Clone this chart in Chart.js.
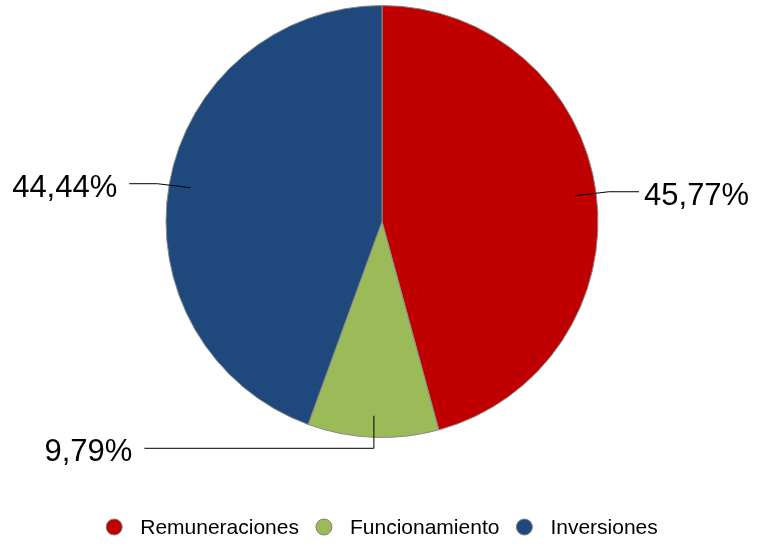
<!DOCTYPE html>
<html>
<head>
<meta charset="utf-8">
<script src="https://cdn.jsdelivr.net/npm/chart.js@4.4.1/dist/chart.umd.min.js"></script>
<style>
  body { margin: 0; background: #fff; }
  #wrap { width: 759px; height: 547px; }
</style>
</head>
<body>
<div id="wrap"><canvas id="piechart"></canvas></div>
<script>
const categories = ['Remuneraciones', 'Funcionamiento', 'Inversiones'];
const shares = [45.77, 9.79, 44.44];
const sliceColors = ['#C00000', '#9BBB59', '#1F497D'];

// leader line routes, in units of the pie radius from its centre
const leaders = [
    { elbow: [1.05, null], endX: 1.19, side: 'right' },
    { elbow: [null, 1.05], endX: -1.10, side: 'left' },
    { elbow: [-1.04, null], endX: -1.17, side: 'left' }
];

const FONT = '"Liberation Sans", Arial, sans-serif';

function fmt(v) {
    return v.toFixed(2).replace('.', ',') + '%';
}

const labelPlugin = {
    id: 'leaderLabels',
    afterDatasetsDraw(chart) {
        const ctx = chart.ctx;
        const meta = chart.getDatasetMeta(0);
        meta.data.forEach(function (arc, i) {
            const p = arc.getProps(['x', 'y', 'startAngle', 'endAngle', 'outerRadius'], true);
            const r = p.outerRadius;
            const mid = (p.startAngle + p.endAngle) / 2;
            const x0 = p.x + Math.cos(mid) * r * 0.9;
            const y0 = p.y + Math.sin(mid) * r * 0.9;
            const L = leaders[i];
            let ex, ey;
            if (L.elbow[0] === null) {
                ex = x0;
                ey = p.y + L.elbow[1] * r;
            } else {
                ex = p.x + L.elbow[0] * r;
                ey = y0 - 4;
            }
            const endX = p.x + L.endX * r;
            ctx.save();
            ctx.strokeStyle = '#000';
            ctx.lineWidth = 1;
            ctx.beginPath();
            ctx.moveTo(x0, y0);
            ctx.lineTo(ex, ey);
            ctx.lineTo(endX, ey);
            ctx.stroke();
            ctx.fillStyle = '#000';
            ctx.font = '31px ' + FONT;
            ctx.textBaseline = 'alphabetic';
            if (L.side === 'right') {
                ctx.textAlign = 'left';
                ctx.fillText(fmt(shares[i]), endX + 5, ey + 13);
            } else {
                ctx.textAlign = 'right';
                ctx.fillText(fmt(shares[i]), endX - 12, ey + 13);
            }
            ctx.restore();
        });
    }
};

// legend drawn below the pie, circle markers like the original
const legendPlugin = {
    id: 'bottomLegend',
    afterDraw(chart) {
        const ctx = chart.ctx;
        const area = chart.chartArea;
        const cx = (area.left + area.right) / 2;
        const y = 527;
        ctx.save();
        ctx.font = '21px ' + FONT;
        const widths = categories.map(c => ctx.measureText(c).width);
        const dot = 16, gapText = 18, gapItem = 17;
        let total = 0;
        widths.forEach((w, i) => {
            total += dot + gapText + w + (i < widths.length - 1 ? gapItem : 0);
        });
        let x = cx - total / 2;
        categories.forEach((c, i) => {
            ctx.beginPath();
            ctx.arc(x + dot / 2, y, dot / 2, 0, Math.PI * 2);
            ctx.fillStyle = sliceColors[i];
            ctx.fill();
            ctx.strokeStyle = '#808080';
            ctx.lineWidth = 1;
            ctx.stroke();
            ctx.fillStyle = '#000';
            ctx.textAlign = 'left';
            ctx.textBaseline = 'middle';
            ctx.fillText(c, x + dot + gapText, y + 1);
            x += dot + gapText + widths[i] + gapItem;
        });
        ctx.restore();
    }
};

const ctx = document.getElementById('piechart').getContext('2d');
new Chart(ctx, {
    type: 'pie',
    data: {
        labels: categories,
        datasets: [{
            data: shares,
            backgroundColor: sliceColors,
            borderColor: '#8a8a8a',
            borderWidth: 1
        }]
    },
    options: {
        responsive: true,
        maintainAspectRatio: false,
        animation: false,
        layout: { padding: { top: 5, left: 5, right: 0, bottom: 109 } },
        plugins: {
            tooltip: { enabled: false },
            legend: { display: false }
        }
    },
    plugins: [labelPlugin, legendPlugin]
});
</script>
</body>
</html>
